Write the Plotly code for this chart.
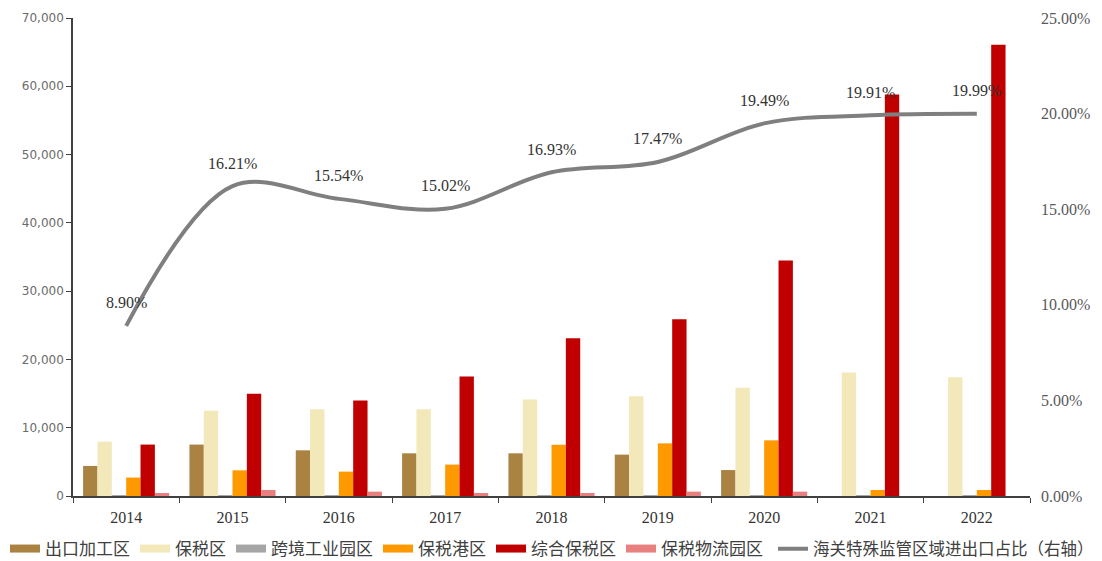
import plotly.graph_objects as go

years = ["2014", "2015", "2016", "2017", "2018", "2019", "2020", "2021", "2022"]
export_processing = [4400, 7530, 6690, 6250, 6250, 6060, 3800, 0, 0]
bonded_zone = [7960, 12500, 12690, 12690, 14150, 14600, 15870, 18100, 17380]
cross_border = [120, 120, 120, 120, 120, 120, 120, 120, 120]
bonded_port = [2700, 3760, 3570, 4600, 7500, 7710, 8150, 880, 880]
comprehensive = [7530, 14990, 13970, 17500, 23090, 25870, 34500, 58800, 66100]
logistics_park = [440, 880, 640, 440, 440, 640, 640, 0, 0]
share_pct = [8.90, 16.21, 15.54, 15.02, 16.93, 17.47, 19.49, 19.91, 19.99]

bar_series = [
    ("出口加工区", export_processing, "#AA8241"),
    ("保税区", bonded_zone, "#F2E8B9"),
    ("跨境工业园区", cross_border, "#A6A6A6"),
    ("保税港区", bonded_port, "#FF9900"),
    ("综合保税区", comprehensive, "#C00000"),
    ("保税物流园区", logistics_park, "#E88080"),
]
line_name = "海关特殊监管区域进出口占比（右轴）"
line_color = "#7F7F7F"

fig = go.Figure()
for name, vals, col in bar_series:
    fig.add_trace(go.Bar(x=years, y=vals, name=name, marker=dict(color=col, line=dict(width=0)),
                         showlegend=False, yaxis="y"))
fig.add_trace(go.Scatter(x=years, y=share_pct, name=line_name, mode="lines",
                         line=dict(color=line_color, width=4, shape="spline", smoothing=1.0),
                         yaxis="y2", showlegend=False))

# legend entries (wide swatches)
for name, vals, col in bar_series:
    fig.add_trace(go.Scatter(x=[years[0]], y=[None], mode="lines", name=name,
                             line=dict(color=col, width=8), showlegend=True, yaxis="y",
                             legend="legend"))
fig.add_trace(go.Scatter(x=[years[0]], y=[None], mode="lines", name=line_name,
                         line=dict(color=line_color, width=4), showlegend=True, yaxis="y2",
                         legend="legend2"))

for i, v in enumerate(share_pct):
    fig.add_annotation(x=i, y=v, xref="x", yref="y2", text=f"{v:.2f}%", showarrow=False,
                       yshift=23, font=dict(family="Liberation Serif", size=16, color="#333333"))

fig.update_layout(
    width=1102, height=561,
    margin=dict(l=73, r=72, t=18, b=65, autoexpand=False),
    paper_bgcolor="white", plot_bgcolor="white",
    barmode="group", bargap=0.19, bargroupgap=0,
    xaxis=dict(type="category", categoryorder="array", categoryarray=years,
               range=[-0.5, len(years) - 0.5],
               tickson="boundaries", ticks="outside", ticklen=5, tickangle=0,
               ticklabelstandoff=6,
               tickcolor="#404040", showline=True, linecolor="#404040", linewidth=1.5,
               showgrid=False, tickfont=dict(family="Liberation Serif", size=16, color="#333333")),
    yaxis=dict(range=[0, 70000], dtick=10000, tickformat=",", ticks="outside", ticklen=5,
               tickcolor="#404040", showline=True, linecolor="#404040", linewidth=1.5,
               showgrid=False, zeroline=False,
               tickfont=dict(family="DejaVu Sans", size=12, color="#6B6B6B")),
    yaxis2=dict(range=[0, 25], dtick=5, overlaying="y", side="right", tickformat=".2f",
                ticksuffix="%", showgrid=False, showline=False, zeroline=False, ticks="",
                ticklabelstandoff=10,
                tickfont=dict(family="Liberation Serif", size=16, color="#595959")),
    legend=dict(orientation="h", xref="container", x=5 / 1102, xanchor="left",
                yref="container", y=12 / 561, yanchor="middle",
                font=dict(family="Noto Sans CJK SC", size=17, color="#404040"),
                itemwidth=30, tracegroupgap=0, bgcolor="rgba(0,0,0,0)"),
    legend2=dict(orientation="h", xref="container", x=773 / 1102, xanchor="left",
                 yref="container", y=12 / 561, yanchor="middle",
                 font=dict(family="Noto Sans CJK SC", size=16.5, color="#404040"),
                 itemwidth=30, tracegroupgap=0, bgcolor="rgba(0,0,0,0)"),
)
fig.write_html("out.html")
